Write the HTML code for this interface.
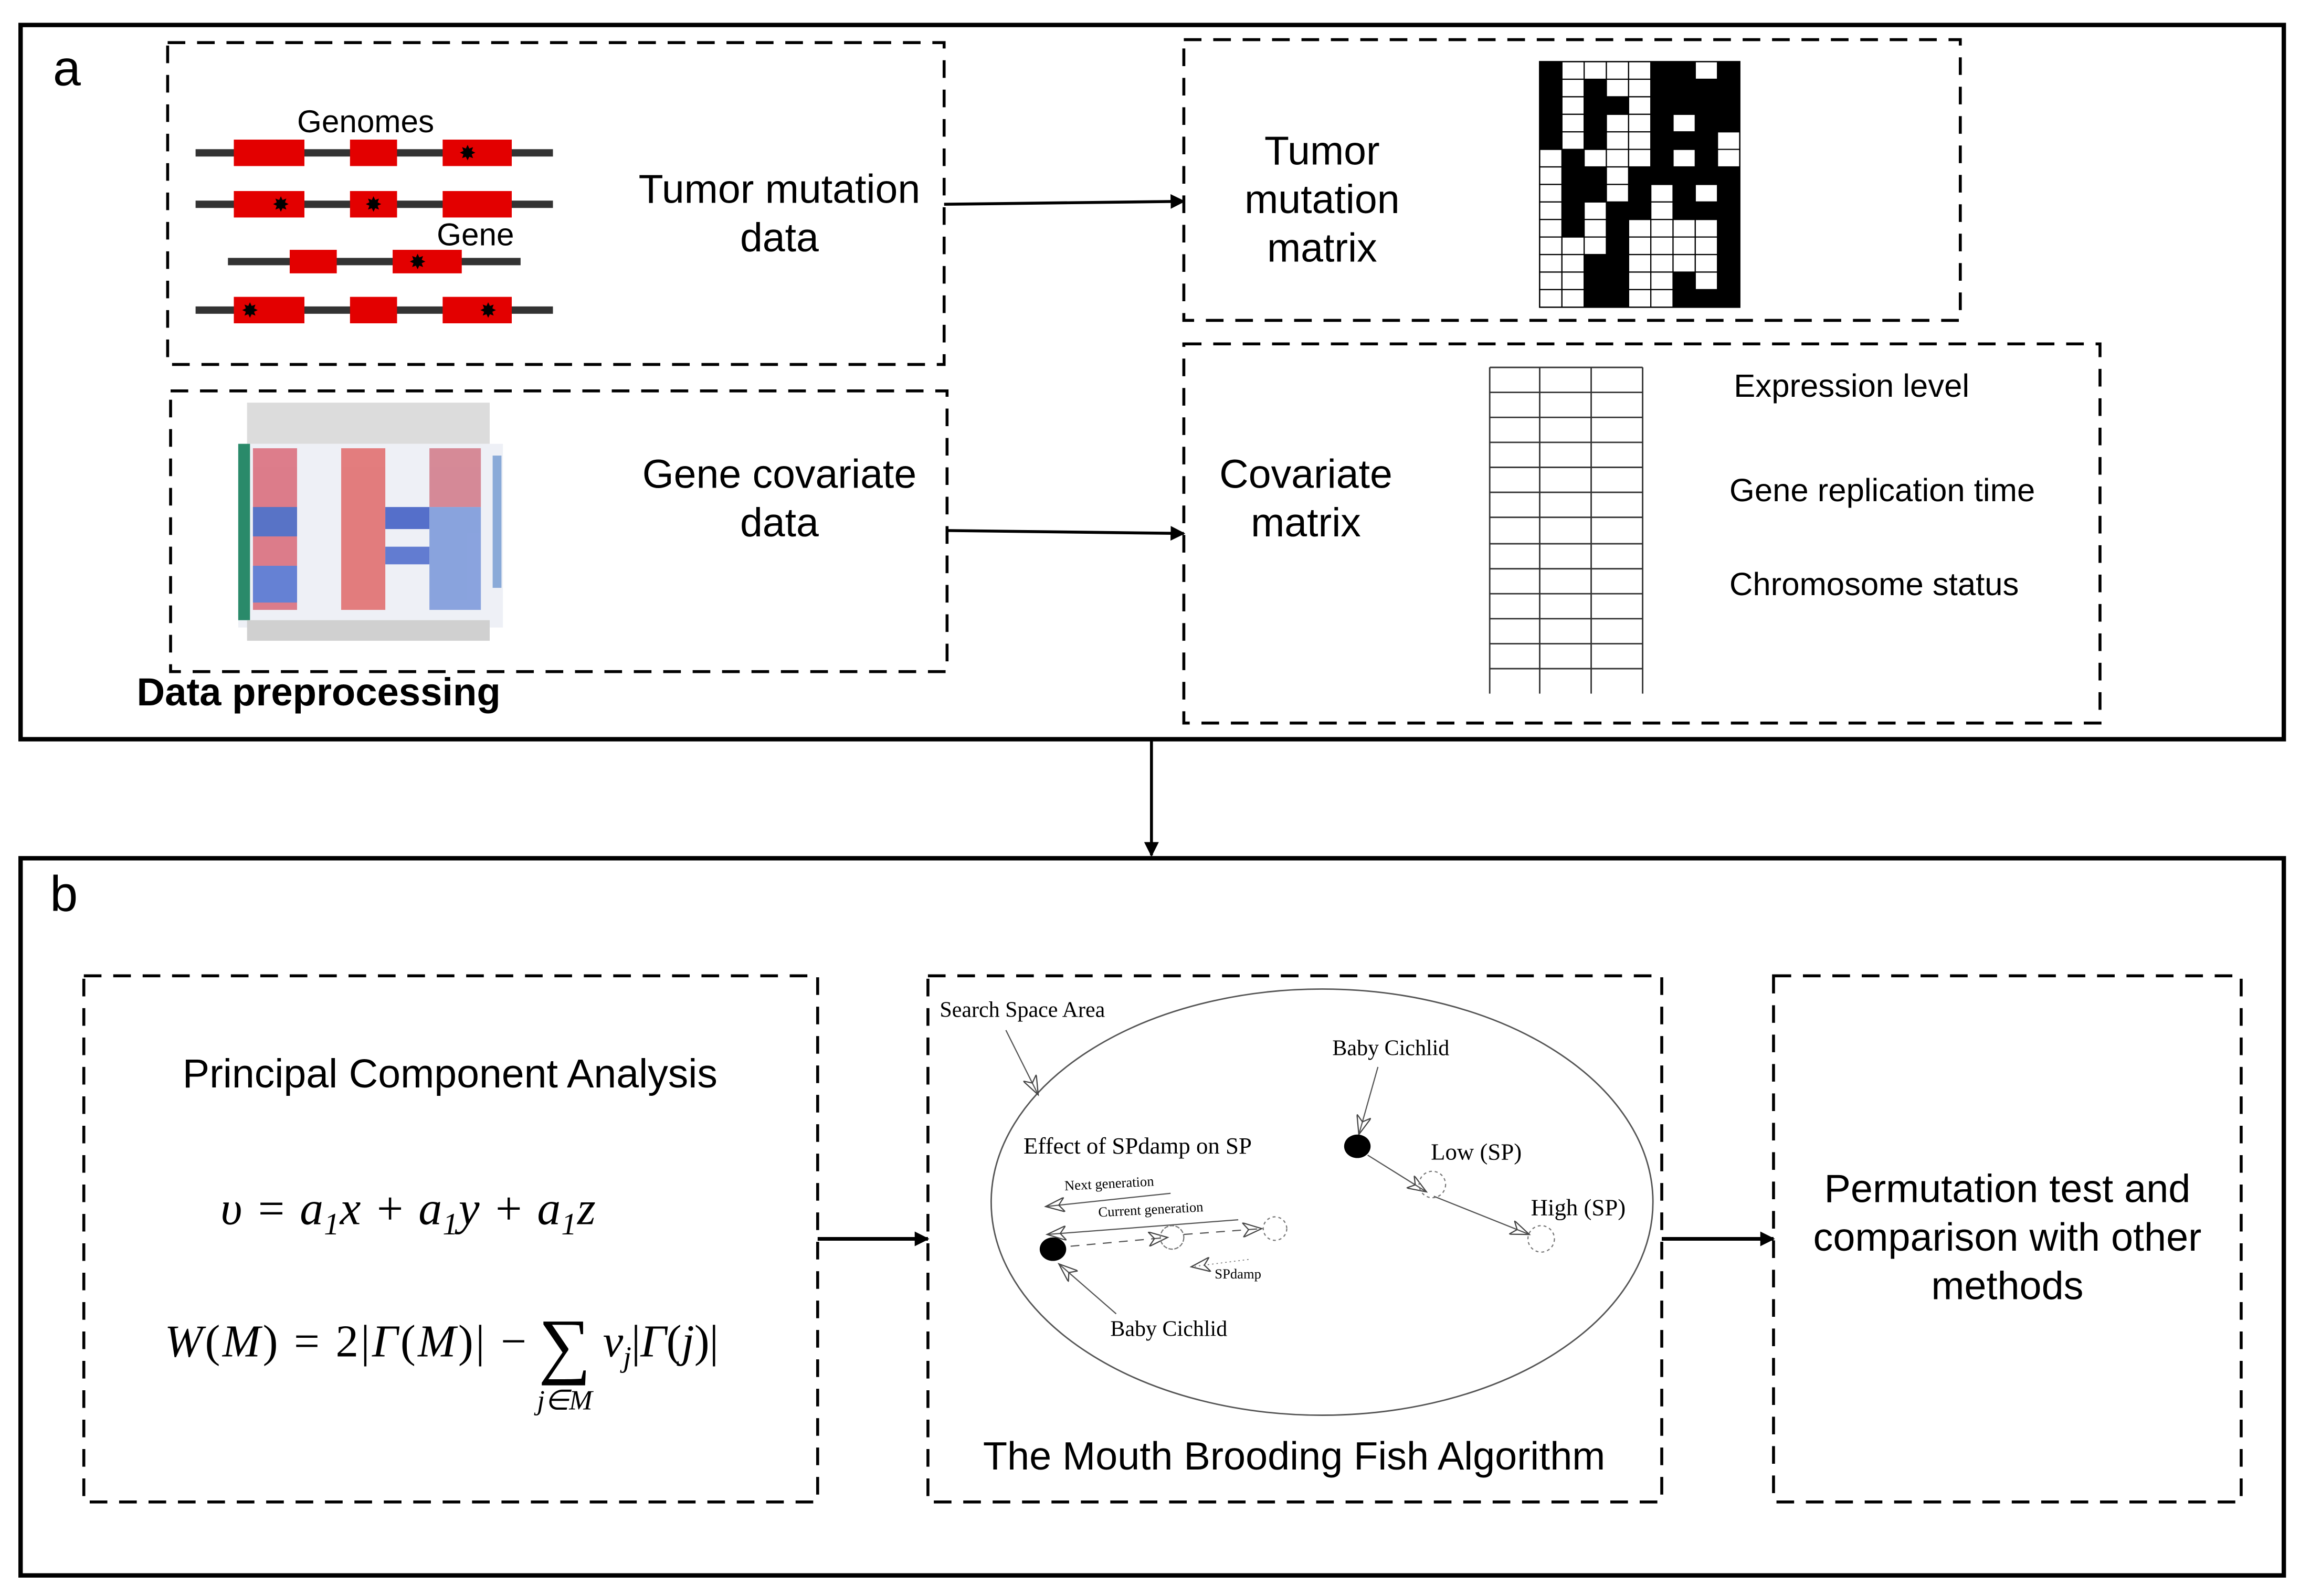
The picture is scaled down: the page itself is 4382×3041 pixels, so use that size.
<!DOCTYPE html>
<html><head><meta charset="utf-8"><style>
html,body{margin:0;padding:0;background:#fff}
svg{display:block}
text{font-family:"Liberation Sans",Arial,sans-serif}
.s{font-family:"Liberation Serif",serif}
</style></head><body>
<svg width="4382" height="3041" viewBox="0 0 1564 1086" preserveAspectRatio="none" xmlns="http://www.w3.org/2000/svg">
<defs>
<marker id="ah" markerWidth="10" markerHeight="10" refX="9" refY="5" orient="auto" markerUnits="userSpaceOnUse"><path d="M0,0 L10,5 L0,10z" fill="#000"/></marker>
<marker id="oa" markerWidth="14" markerHeight="10" refX="13" refY="5" orient="auto" markerUnits="userSpaceOnUse"><path d="M0,0 L13,5 L0,10 L4,5z" fill="none" stroke="#444" stroke-width="0.8"/></marker>
</defs>
<rect width="1564" height="1086" fill="#fff"/>
<!-- panel a -->
<rect x="14" y="17" width="1539" height="486" fill="none" stroke="#000" stroke-width="3"/>
<text x="36" y="58" font-size="34">a</text>
<g fill="none" stroke="#000" stroke-width="2" stroke-dasharray="12,8">
<rect x="114" y="29" width="528" height="219"/>
<rect x="116" y="266" width="528" height="191"/>
<rect x="805" y="27" width="528" height="191"/>
<rect x="805" y="234" width="623" height="258"/>
</g>
<!-- genomes -->
<g stroke="#333" stroke-width="5">
<line x1="133" y1="104" x2="376" y2="104"/>
<line x1="133" y1="139" x2="376" y2="139"/>
<line x1="155" y1="178" x2="354" y2="178"/>
<line x1="133" y1="211" x2="376" y2="211"/>
</g>
<g fill="#e30000">
<rect x="159" y="95" width="48" height="18"/><rect x="238" y="95" width="32" height="18"/><rect x="301" y="95" width="47" height="18"/>
<rect x="159" y="130" width="48" height="18"/><rect x="238" y="130" width="32" height="18"/><rect x="301" y="130" width="47" height="18"/>
<rect x="197" y="170" width="32" height="16"/><rect x="267" y="170" width="47" height="16"/>
<rect x="159" y="202" width="48" height="18"/><rect x="238" y="202" width="32" height="18"/><rect x="301" y="202" width="47" height="18"/>
</g>
<g font-size="14" text-anchor="middle" fill="#000">
<text x="318" y="109">✸</text><text x="191" y="144">✸</text><text x="254" y="144">✸</text><text x="284" y="183">✸</text><text x="170" y="216">✸</text><text x="332" y="216">✸</text>
</g>
<text x="202" y="90" font-size="21.5">Genomes</text>
<text x="297" y="167" font-size="21.5">Gene</text>
<text x="530" y="138" font-size="27.5" text-anchor="middle">Tumor mutation</text>
<text x="530" y="171" font-size="27.5" text-anchor="middle">data</text>
<!-- heatmap approx -->
<rect x="168" y="274" width="165" height="28" fill="#dcdcdc"/>
<rect x="162" y="302" width="180" height="125" fill="#eef0f6"/>
<rect x="162" y="302" width="8" height="120" fill="#2a8a6a"/>
<g opacity="0.8">
<rect x="172" y="305" width="30" height="110" fill="#d86070"/>
<rect x="172" y="345" width="30" height="20" fill="#3355bb"/>
<rect x="172" y="385" width="30" height="25" fill="#4466cc"/>
<rect x="232" y="305" width="30" height="110" fill="#e06060"/>
<rect x="262" y="345" width="30" height="15" fill="#3050c0"/>
<rect x="262" y="372" width="30" height="12" fill="#4060c8"/>
<rect x="292" y="305" width="35" height="40" fill="#d07080"/>
<rect x="292" y="345" width="35" height="70" fill="#7090d8"/>
</g>
<rect x="335" y="310" width="6" height="90" fill="#8aaad8"/>
<rect x="168" y="422" width="165" height="14" fill="#d0d0d0"/>
<text x="530" y="332" font-size="27.5" text-anchor="middle">Gene covariate</text>
<text x="530" y="365" font-size="27.5" text-anchor="middle">data</text>
<text x="93" y="480" font-size="26.5" font-weight="bold">Data preprocessing</text>
<!-- arrows a -->
<line x1="642" y1="139" x2="805" y2="137" stroke="#000" stroke-width="2" marker-end="url(#ah)"/>
<line x1="644" y1="361" x2="805" y2="363" stroke="#000" stroke-width="2" marker-end="url(#ah)"/>
<!-- mutation matrix -->
<text x="899" y="112" font-size="27.5" text-anchor="middle">Tumor</text>
<text x="899" y="145" font-size="27.5" text-anchor="middle">mutation</text>
<text x="899" y="178" font-size="27.5" text-anchor="middle">matrix</text>
<g id="mm" transform="translate(1047,42)">
<rect width="136" height="167" fill="#fff" stroke="#000" stroke-width="1"/>
</g>
<script>
(function(){var m=["100001101","101001111","101101111","101001011","101001110","010001010","011011111","011010101","010110111","010100001","000100001","001100001","001100101","001100111"];
var g=document.getElementById("mm"),ns="http://www.w3.org/2000/svg",w=136/9,h=167/14;
for(var r=0;r<14;r++)for(var c=0;c<9;c++){var e=document.createElementNS(ns,"rect");e.setAttribute("x",c*w);e.setAttribute("y",r*h);e.setAttribute("width",w);e.setAttribute("height",h);
if(m[r][c]=="1"){e.setAttribute("fill","#000");e.setAttribute("stroke","#000");e.setAttribute("stroke-width","0.5");}else{e.setAttribute("fill","#fff");e.setAttribute("stroke","#000");e.setAttribute("stroke-width","0.8");}g.appendChild(e);}})();
</script>
<!-- covariate -->
<text x="888" y="332" font-size="27.5" text-anchor="middle">Covariate</text>
<text x="888" y="365" font-size="27.5" text-anchor="middle">matrix</text>
<g stroke="#333" stroke-width="1" fill="none">
<line x1="1013" y1="250" x2="1117" y2="250"/>
<line x1="1013" y1="250" x2="1013" y2="472"/><line x1="1047" y1="250" x2="1047" y2="472"/><line x1="1082" y1="250" x2="1082" y2="472"/><line x1="1117" y1="250" x2="1117" y2="472"/>
<line x1="1013" y1="267" x2="1117" y2="267"/><line x1="1013" y1="284" x2="1117" y2="284"/><line x1="1013" y1="301" x2="1117" y2="301"/><line x1="1013" y1="318" x2="1117" y2="318"/><line x1="1013" y1="335" x2="1117" y2="335"/><line x1="1013" y1="352" x2="1117" y2="352"/><line x1="1013" y1="370" x2="1117" y2="370"/><line x1="1013" y1="387" x2="1117" y2="387"/><line x1="1013" y1="404" x2="1117" y2="404"/><line x1="1013" y1="421" x2="1117" y2="421"/><line x1="1013" y1="438" x2="1117" y2="438"/><line x1="1013" y1="455" x2="1117" y2="455"/>
</g>
<text x="1179" y="270" font-size="22">Expression level</text>
<text x="1176" y="341" font-size="22">Gene replication time</text>
<text x="1176" y="405" font-size="22">Chromosome status</text>
<!-- a to b -->
<line x1="783" y1="503" x2="783" y2="582" stroke="#000" stroke-width="2" marker-end="url(#ah)"/>
<!-- panel b -->
<rect x="14" y="584" width="1539" height="488" fill="none" stroke="#000" stroke-width="3"/>
<text x="34" y="620" font-size="34">b</text>
<g fill="none" stroke="#000" stroke-width="2" stroke-dasharray="12,8">
<rect x="57" y="664" width="499" height="358"/>
<rect x="631" y="664" width="499" height="358"/>
<rect x="1206" y="664" width="318" height="358"/>
</g>
<line x1="556" y1="843" x2="631" y2="843" stroke="#000" stroke-width="2.5" marker-end="url(#ah)"/>
<line x1="1130" y1="843" x2="1206" y2="843" stroke="#000" stroke-width="2.5" marker-end="url(#ah)"/>
<text x="306" y="740" font-size="27.5" text-anchor="middle">Principal Component Analysis</text>
<text x="150" y="833" font-size="32" class="s" font-style="italic" textLength="255" lengthAdjust="spacing">υ = a<tspan font-size="21" dy="7">1</tspan><tspan dy="-7">x + a</tspan><tspan font-size="21" dy="7">1</tspan><tspan dy="-7">y + a</tspan><tspan font-size="21" dy="7">1</tspan><tspan dy="-7">z</tspan></text>
<text x="112" y="923" font-size="31" class="s" textLength="246" lengthAdjust="spacing"><tspan font-style="italic">W</tspan>(<tspan font-style="italic">M</tspan>) = 2|<tspan font-style="italic">Γ</tspan>(<tspan font-style="italic">M</tspan>)| −</text>
<text x="384" y="932" font-size="50" class="s" text-anchor="middle">∑</text>
<text x="384" y="959" font-size="19" class="s" font-style="italic" text-anchor="middle">j∈M</text>
<text x="410" y="923" font-size="31" class="s" font-style="italic">v<tspan font-size="20" dy="7">j</tspan><tspan dy="-7" font-style="normal">|</tspan>Γ<tspan font-style="normal">(</tspan>j<tspan font-style="normal">)|</tspan></text>
<!-- fish algorithm -->
<ellipse cx="899" cy="818" rx="225" ry="145" fill="none" stroke="#555" stroke-width="1"/>
<text x="639" y="692" font-size="15" class="s">Search Space Area</text>
<line x1="684" y1="701" x2="706" y2="745" stroke="#555" stroke-width="0.8" marker-end="url(#oa)"/>
<text x="906" y="718" font-size="15" class="s">Baby Cichlid</text>
<line x1="937" y1="726" x2="924" y2="772" stroke="#555" stroke-width="0.8" marker-end="url(#oa)"/>
<ellipse cx="923" cy="780" rx="9" ry="8" fill="#000"/>
<text x="973" y="789" font-size="16" class="s">Low (SP)</text>
<text x="1041" y="827" font-size="16" class="s">High (SP)</text>
<line x1="930" y1="786" x2="970" y2="811" stroke="#555" stroke-width="0.8" marker-end="url(#oa)"/>
<line x1="975" y1="814" x2="1040" y2="840" stroke="#555" stroke-width="0.8" marker-end="url(#oa)"/>
<circle cx="974" cy="806" r="9" fill="none" stroke="#777" stroke-width="0.8" stroke-dasharray="2,2"/>
<circle cx="1048" cy="843" r="9" fill="none" stroke="#777" stroke-width="0.8" stroke-dasharray="2,2"/>
<text x="696" y="785" font-size="16" class="s">Effect of SPdamp on SP</text>
<text x="724" y="810" font-size="9.5" class="s" transform="rotate(-3 724 810)">Next generation</text>
<line x1="796" y1="812" x2="711" y2="821" stroke="#555" stroke-width="0.8" marker-end="url(#oa)"/>
<text x="747" y="828" font-size="9.5" class="s" transform="rotate(-3 747 828)">Current generation</text>
<line x1="842" y1="830" x2="712" y2="840" stroke="#555" stroke-width="0.8" marker-end="url(#oa)"/>
<ellipse cx="716" cy="850" rx="9" ry="8" fill="#000"/>
<line x1="728" y1="848" x2="794" y2="842" stroke="#555" stroke-width="0.8" stroke-dasharray="6,5" marker-end="url(#oa)"/>
<line x1="805" y1="840" x2="858" y2="836" stroke="#555" stroke-width="0.8" stroke-dasharray="6,5" marker-end="url(#oa)"/>
<circle cx="797" cy="842" r="8" fill="none" stroke="#777" stroke-width="0.8" stroke-dasharray="3,1"/>
<circle cx="867" cy="836" r="8" fill="none" stroke="#777" stroke-width="0.8" stroke-dasharray="2,2"/>
<line x1="849" y1="857" x2="810" y2="862" stroke="#777" stroke-width="0.6" stroke-dasharray="1,2" marker-end="url(#oa)"/>
<text x="826" y="870" font-size="9.5" class="s">SPdamp</text>
<line x1="759" y1="894" x2="720" y2="860" stroke="#555" stroke-width="0.8" marker-end="url(#oa)"/>
<text x="755" y="909" font-size="15" class="s">Baby Cichlid</text>
<text x="880" y="1000" font-size="27" text-anchor="middle">The Mouth Brooding Fish Algorithm</text>
<text x="1365" y="818" font-size="27" text-anchor="middle">Permutation test and</text>
<text x="1365" y="851" font-size="27" text-anchor="middle">comparison with other</text>
<text x="1365" y="884" font-size="27" text-anchor="middle">methods</text>
</svg>
</body></html>
